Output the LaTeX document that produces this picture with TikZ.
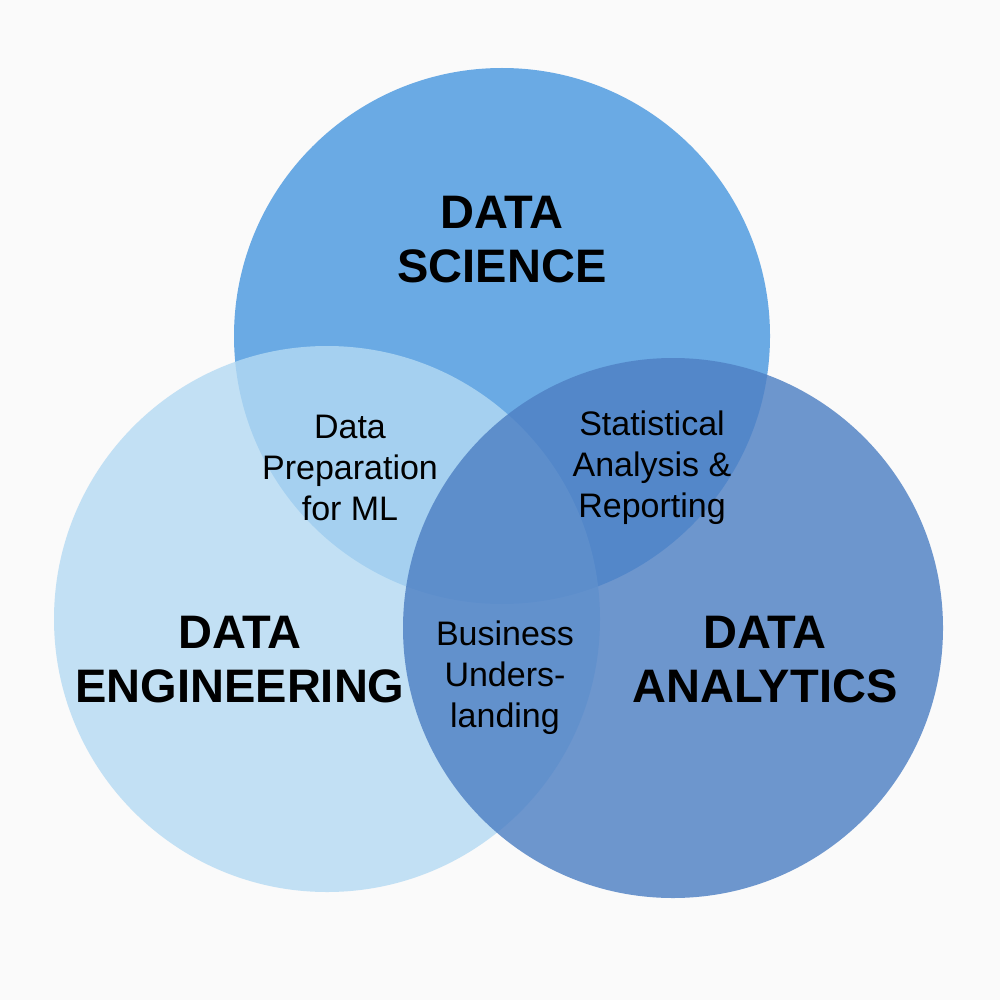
\documentclass[tikz,border=0pt]{standalone}
\usepackage{fontspec}
\setmainfont{Liberation Sans}
\begin{document}
\begin{tikzpicture}[x=1pt,y=-1pt,
 big/.style={font=\fontsize{47}{54}\selectfont\bfseries,align=center},
 small/.style={font=\fontsize{34}{41}\selectfont,align=center}]
\definecolor{bg}{RGB}{250,250,250}
\definecolor{ctop}{RGB}{106,170,228}
\definecolor{cleft}{RGB}{180,218,243}
\definecolor{cright}{RGB}{78,128,196}
\useasboundingbox[fill=bg] (0,0) rectangle (1000,1000);
\fill[ctop] (502,336) circle (268);
\fill[cleft,fill opacity=0.8] (327,619) circle (273);
\fill[cright,fill opacity=0.82] (673,628) circle (270);
\node[big] (ds) at (502,240) {DATA\\SCIENCE};
\node[big] (de) at (240,660) {DATA\\ENGINEERING};
\node[big] (da) at (765,660) {DATA\\ANALYTICS};
\node[small] (p) at (350,468) {Data\\Preparation\\for ML};
\node[small] (s) at (652,468) {Statistical\\Analysis \&\\Reporting};
\node[small] (b) at (505,678) {Business\\Unders-\\landing};
\end{tikzpicture}
\end{document}
